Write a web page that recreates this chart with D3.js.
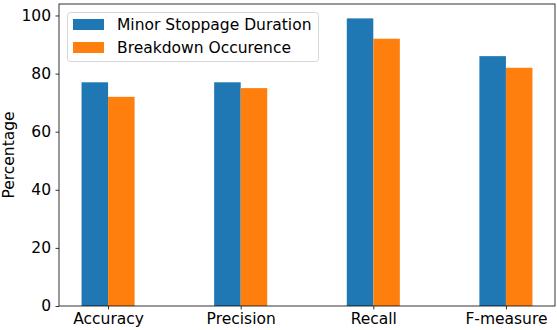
<!DOCTYPE html>
<html>
<head>
<meta charset="utf-8">
<script src="https://cdn.jsdelivr.net/npm/d3@7"></script>
<style>
  body { margin: 0; background: #fff; }
  svg { display: block; font-family: "DejaVu Sans", sans-serif; }
</style>
</head>
<body>
<div id="chart"></div>
<script>
// chart data
var categories = ["Accuracy", "Precision", "Recall", "F-measure"];
var seriesNames = ["Minor Stoppage Duration", "Breakdown Occurence"];
var minorStoppage = [77, 77, 99, 86];
var breakdown = [72, 75, 92, 82];
var yTicks = [0, 20, 40, 60, 80, 100];

var colors = ["#1f77b4", "#ff7f0e"];
var series = [minorStoppage, breakdown];
var fontSize = 15.5;

var W = 557, H = 330;
var margin = {top: 4, right: 2, bottom: 24, left: 59};
var width = W - margin.left - margin.right,
    height = H - margin.top - margin.bottom;

var svg = d3.select("#chart").append("svg")
    .attr("width", W)
    .attr("height", H);

var g = svg.append("g")
    .attr("transform", "translate(" + margin.left + "," + margin.top + ")");

// matplotlib style: categories at 0..n-1, bar width 0.2, 5% margins
var barW = 0.2;
var x = d3.scaleLinear()
    .domain([-0.37, categories.length - 1 + 0.37])
    .range([0, width]);
var y = d3.scaleLinear()
    .domain([0, 99 * 1.05])
    .range([height, 0]);

// bars
series.forEach(function(vals, si) {
  g.selectAll(".bar" + si)
      .data(vals)
    .enter().append("rect")
      .attr("class", "bar" + si)
      .attr("x", function(d, i) { return x(i + (si === 0 ? -barW : 0)); })
      .attr("width", x(barW) - x(0))
      .attr("y", function(d) { return y(d); })
      .attr("height", function(d) { return height - y(d); })
      .attr("fill", colors[si]);
});

// axes
var xAxis = g.append("g")
    .attr("transform", "translate(0," + height + ")")
    .call(d3.axisBottom(x)
      .tickValues(d3.range(categories.length))
      .tickFormat(function(d) { return categories[d]; })
      .tickSizeOuter(0).tickSize(3.5).tickPadding(3.5));
var yAxis = g.append("g")
    .call(d3.axisLeft(y).tickValues(yTicks).tickSizeOuter(0).tickSize(3.5).tickPadding(4.5));

[xAxis, yAxis].forEach(function(a) {
  a.select(".domain").remove();
  a.selectAll("line").attr("stroke", "#000").attr("stroke-width", 0.8);
  a.selectAll("text").attr("font-size", fontSize).attr("fill", "#000")
    .attr("font-family", "DejaVu Sans, sans-serif");
});

// frame
g.append("rect")
    .attr("width", width)
    .attr("height", height)
    .attr("fill", "none")
    .attr("stroke", "#000")
    .attr("stroke-width", 0.8);

// y label
svg.append("text")
    .attr("transform", "translate(14," + (margin.top + height / 2) + ") rotate(-90)")
    .attr("text-anchor", "middle")
    .attr("font-size", fontSize)
    .text("Percentage");

// legend
var legend = svg.append("g").attr("transform", "translate(67.5,12.5)");
legend.append("rect")
    .attr("width", 251)
    .attr("height", 49)
    .attr("rx", 3)
    .attr("fill", "#fff")
    .attr("fill-opacity", 0.8)
    .attr("stroke", "#ccc")
    .attr("stroke-width", 0.8);
seriesNames.forEach(function(name, i) {
  var row = legend.append("g").attr("transform", "translate(5.5," + (6.5 + i * 23) + ")");
  row.append("rect")
      .attr("width", 31)
      .attr("height", 11)
      .attr("fill", colors[i]);
  row.append("text")
      .attr("x", 44)
      .attr("y", 5.5)
      .attr("dy", "0.35em")
      .attr("font-size", fontSize)
      .text(name);
});
</script>
</body>
</html>
